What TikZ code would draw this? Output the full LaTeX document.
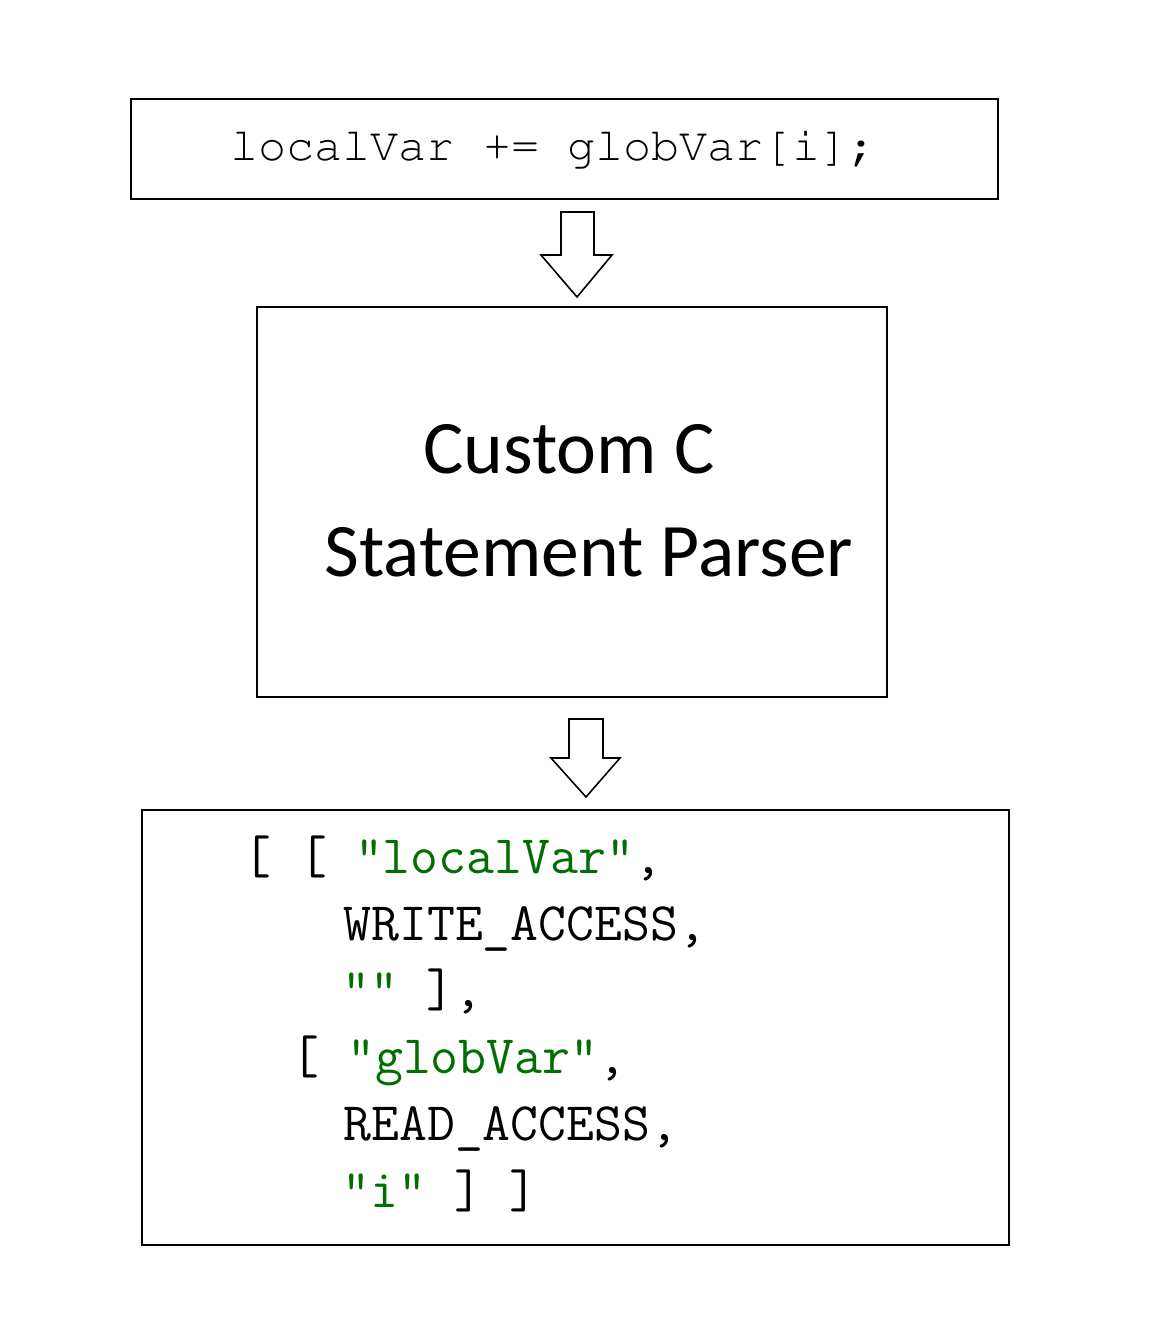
\documentclass[tikz,border=0pt]{standalone}
\usepackage{fontspec}
\newfontfamily\calfont{Carlito}
\newcommand{\courfnt}{\fontencoding{OT1}\fontfamily{pcr}\selectfont}
\definecolor{strgreen}{RGB}{0,110,0}
\begin{document}
\begin{tikzpicture}[x=0.5pt,y=-0.5pt,
  box/.style={draw=black,line width=1pt,rectangle,inner sep=0pt},
  blockarrow/.style={draw=black,line width=0.8pt,fill=white,line join=miter},
  codeline/.style={anchor=base west,inner sep=0pt,font=\fontsize{27.1pt}{30pt}\ttfamily},
  toptext/.style={anchor=base west,inner sep=0pt,font=\fontsize{23.4pt}{28pt}\courfnt},
  parsertext/.style={anchor=base,inner sep=0pt,font=\fontsize{37.8pt}{44pt}\calfont}]
\useasboundingbox (0,0) rectangle (1160,1344);
% boxes
\node[box,minimum width=433.5pt,minimum height=50pt] (stmt) at (564.5,149) {};
\node[box,minimum width=315pt,minimum height=195pt] (parser) at (572,502) {};
\node[box,minimum width=433.5pt,minimum height=217.5pt] (result) at (575.5,1027.5) {};
% top statement
\node[toptext] (stmttext) at (230,160) {localVar += globVar[i];};
% parser text
\node[parsertext] (p1) at (569,473) {Custom C};
\node[parsertext] (p2) at (589,576) {Statement Parser};
% result code
\node[codeline] (r1) at (243,873) {[ [ \textcolor{strgreen}{"localVar"},};
\node[codeline] (r2) at (343,940) {WRITE\_ACCESS,};
\node[codeline] (r3) at (342,1006) {\textcolor{strgreen}{""} ],};
\node[codeline] (r4) at (291,1073) {[ \textcolor{strgreen}{"globVar"},};
\node[codeline] (r5) at (343,1140) {READ\_ACCESS,};
\node[codeline] (r6) at (342,1207) {\textcolor{strgreen}{"i"} ] ]};
% block arrows
\draw[blockarrow] (561,212) -- (594,212) -- (594,255) -- (612,255) -- (577,297) -- (541,255) -- (561,255) -- cycle;
\draw[blockarrow] (569,719) -- (603,719) -- (603,758) -- (620,758) -- (586,797) -- (551,758) -- (569,758) -- cycle;
\end{tikzpicture}
\end{document}
